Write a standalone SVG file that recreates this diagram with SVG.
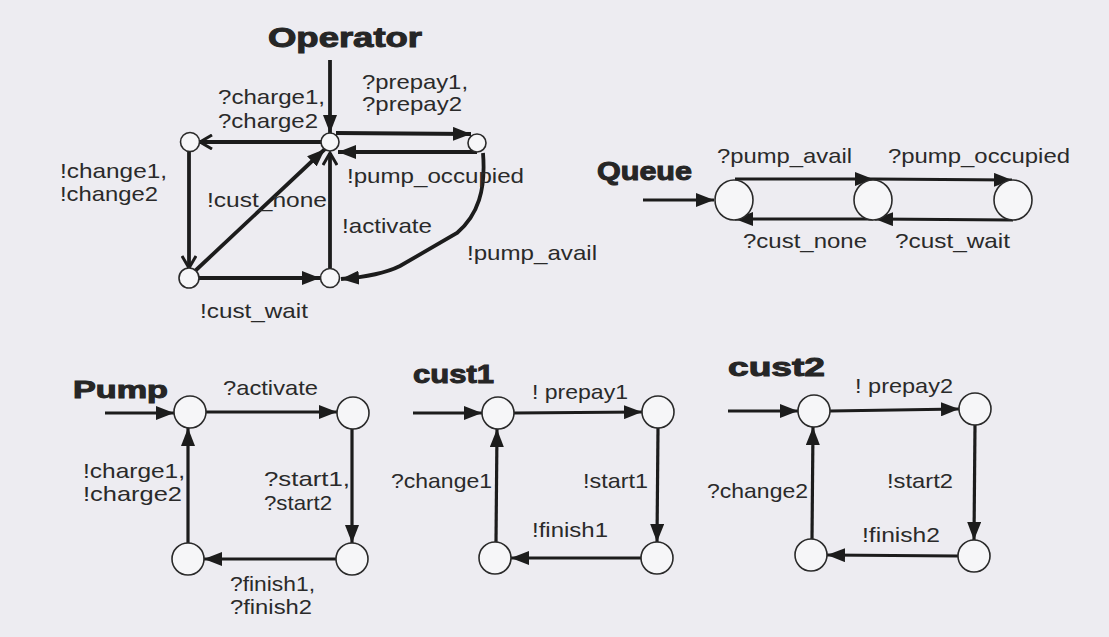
<svg xmlns="http://www.w3.org/2000/svg" width="1109" height="637" viewBox="0 0 1109 637">
<style>
.bg{fill:#edecf1}
.st{fill:#f6f6f8;stroke:#2a2a2a;stroke-width:1.6}
.e{fill:none;stroke:#1c1c1c;stroke-width:3.2;stroke-linecap:butt}
.eo{fill:none;stroke:#1c1c1c;stroke-width:3.8}
.t{font-family:"Liberation Sans",Arial,sans-serif;font-size:21px;fill:#2a2a2a}
.h{font-family:"Liberation Sans",Arial,sans-serif;font-weight:bold;fill:#262626;stroke:#262626;stroke-width:1}
</style>
<defs>
<marker id="af" markerWidth="20" markerHeight="14" refX="18" refY="7" orient="auto" markerUnits="userSpaceOnUse"><path d="M0,0 L18,7 L0,14 z" fill="#1c1c1c"/></marker>
<marker id="ao" markerWidth="18" markerHeight="16" refX="14" refY="8" orient="auto" markerUnits="userSpaceOnUse"><path d="M2,1 L14,8 L2,15" fill="none" stroke="#1c1c1c" stroke-width="3"/></marker>
</defs>
<rect class="bg" x="0" y="0" width="1109" height="637"/>

<!-- titles -->
<g id="titles">
<text class="h" x="268" y="47" font-size="27" textLength="154" lengthAdjust="spacingAndGlyphs">Operator</text>
<text class="h" x="597" y="180" font-size="25" textLength="95" lengthAdjust="spacingAndGlyphs">Queue</text>
<text class="h" x="73" y="398" font-size="24" textLength="95" lengthAdjust="spacingAndGlyphs">Pump</text>
<text class="h" x="413" y="383" font-size="26" textLength="81" lengthAdjust="spacingAndGlyphs">cust1</text>
<text class="h" x="728" y="376" font-size="26" textLength="97" lengthAdjust="spacingAndGlyphs">cust2</text>
</g>

<!-- connectors -->
<g id="connectors">
<!-- Operator -->
<path class="eo" d="M330,60 L330,133" marker-end="url(#af)"/>
<path class="eo" d="M321,142 L200,142" marker-end="url(#ao)"/>
<path class="eo" d="M189,152 L189,268" marker-end="url(#ao)"/>
<path class="eo" d="M199,278 L320,278" marker-end="url(#af)"/>
<path class="eo" d="M330,268 L330,153" marker-end="url(#ao)"/>
<path class="eo" d="M195,271 L325,149" marker-end="url(#af)"/>
<path class="eo" d="M336,133 L471,134" marker-end="url(#af)"/>
<path class="eo" d="M477,152 L338,152" marker-end="url(#af)"/>
<path class="eo" d="M483,153 C486,190 478,215 457,233 L400,266 Q380,276 341,279" marker-end="url(#af)"/>
<!-- Queue -->
<path class="e" d="M643,200 L714,200" marker-end="url(#af)"/>
<path class="e" d="M735,179 L873,179" marker-end="url(#af)"/>
<path class="e" d="M873,179 L1012,180" marker-end="url(#af)"/>
<path class="e" d="M873,219 L735,219" marker-end="url(#af)"/>
<path class="e" d="M1013,220 L875,219" marker-end="url(#af)"/>
<!-- Pump -->
<path class="e" d="M105,413 L174,413" marker-end="url(#af)"/>
<path class="e" d="M206,412 L337,412" marker-end="url(#af)"/>
<path class="e" d="M352,429 L352,543" marker-end="url(#af)"/>
<path class="e" d="M336,559 L204,559" marker-end="url(#af)"/>
<path class="e" d="M188,543 L188,428" marker-end="url(#af)"/>
<!-- cust1 -->
<path class="e" d="M413,413 L482,413" marker-end="url(#af)"/>
<path class="e" d="M514,413 L642,412" marker-end="url(#af)"/>
<path class="e" d="M658,428 L657,542" marker-end="url(#af)"/>
<path class="e" d="M641,558 L511,558" marker-end="url(#af)"/>
<path class="e" d="M496,542 L497,429" marker-end="url(#af)"/>
<!-- cust2 -->
<path class="e" d="M728,411 L798,411" marker-end="url(#af)"/>
<path class="e" d="M830,411 L959,409" marker-end="url(#af)"/>
<path class="e" d="M975,425 L974,540" marker-end="url(#af)"/>
<path class="e" d="M958,556 L827,555" marker-end="url(#af)"/>
<path class="e" d="M812,539 L813,427" marker-end="url(#af)"/>
</g>

<!-- Operator nodes -->
<g id="op-s0"><circle class="st" cx="330" cy="142" r="9"/></g>
<g id="op-s1"><circle class="st" cx="190" cy="142" r="9.5"/></g>
<g id="op-s2"><circle class="st" cx="189" cy="278" r="10"/></g>
<g id="op-s3"><circle class="st" cx="330" cy="278" r="9.5"/></g>
<g id="op-s4"><circle class="st" cx="477" cy="143" r="9"/></g>
<!-- Queue nodes -->
<g id="q-s0"><ellipse class="st" cx="734" cy="200" rx="19" ry="20"/></g>
<g id="q-s1"><ellipse class="st" cx="873" cy="200" rx="19" ry="20"/></g>
<g id="q-s2"><ellipse class="st" cx="1013" cy="200" rx="19" ry="20"/></g>
<!-- Pump nodes -->
<g id="p-s0"><circle class="st" cx="190" cy="412" r="16"/></g>
<g id="p-s1"><circle class="st" cx="353" cy="413" r="16"/></g>
<g id="p-s2"><circle class="st" cx="352" cy="559" r="16"/></g>
<g id="p-s3"><circle class="st" cx="188" cy="559" r="16"/></g>
<!-- cust1 nodes -->
<g id="c1-s0"><circle class="st" cx="498" cy="413" r="16"/></g>
<g id="c1-s1"><circle class="st" cx="658" cy="412" r="16"/></g>
<g id="c1-s2"><circle class="st" cx="657" cy="558" r="16"/></g>
<g id="c1-s3"><circle class="st" cx="495" cy="558" r="16"/></g>
<!-- cust2 nodes -->
<g id="c2-s0"><circle class="st" cx="814" cy="411" r="16"/></g>
<g id="c2-s1"><circle class="st" cx="975" cy="409" r="16"/></g>
<g id="c2-s2"><circle class="st" cx="974" cy="556" r="16"/></g>
<g id="c2-s3"><circle class="st" cx="811" cy="555" r="16"/></g>

<!-- labels -->
<g id="labels">
<text class="t" x="218" y="104" textLength="107" lengthAdjust="spacingAndGlyphs">?charge1,</text>
<text class="t" x="218" y="128" textLength="100" lengthAdjust="spacingAndGlyphs">?charge2</text>
<text class="t" x="362" y="89" textLength="106" lengthAdjust="spacingAndGlyphs">?prepay1,</text>
<text class="t" x="362" y="111" textLength="100" lengthAdjust="spacingAndGlyphs">?prepay2</text>
<text class="t" x="60" y="178" textLength="107" lengthAdjust="spacingAndGlyphs">!change1,</text>
<text class="t" x="60" y="201" textLength="98" lengthAdjust="spacingAndGlyphs">!change2</text>
<text class="t" x="207" y="207" textLength="120" lengthAdjust="spacingAndGlyphs">!cust_none</text>
<text class="t" x="347" y="183" textLength="177" lengthAdjust="spacingAndGlyphs">!pump_occupied</text>
<text class="t" x="342" y="233" textLength="90" lengthAdjust="spacingAndGlyphs">!activate</text>
<text class="t" x="467" y="260" textLength="130" lengthAdjust="spacingAndGlyphs">!pump_avail</text>
<text class="t" x="200" y="318" textLength="108" lengthAdjust="spacingAndGlyphs">!cust_wait</text>

<text class="t" x="717" y="163" textLength="135" lengthAdjust="spacingAndGlyphs">?pump_avail</text>
<text class="t" x="888" y="163" textLength="182" lengthAdjust="spacingAndGlyphs">?pump_occupied</text>
<text class="t" x="743" y="248" textLength="124" lengthAdjust="spacingAndGlyphs">?cust_none</text>
<text class="t" x="895" y="248" textLength="115" lengthAdjust="spacingAndGlyphs">?cust_wait</text>

<text class="t" x="223" y="395" textLength="95" lengthAdjust="spacingAndGlyphs">?activate</text>
<text class="t" x="264" y="486" textLength="86" lengthAdjust="spacingAndGlyphs">?start1,</text>
<text class="t" x="264" y="510" textLength="68" lengthAdjust="spacingAndGlyphs">?start2</text>
<text class="t" x="83" y="478" textLength="102" lengthAdjust="spacingAndGlyphs">!charge1,</text>
<text class="t" x="83" y="501" textLength="99" lengthAdjust="spacingAndGlyphs">!charge2</text>
<text class="t" x="230" y="591" textLength="85" lengthAdjust="spacingAndGlyphs">?finish1,</text>
<text class="t" x="230" y="614" textLength="82" lengthAdjust="spacingAndGlyphs">?finish2</text>

<text class="t" x="532" y="399" textLength="96" lengthAdjust="spacingAndGlyphs">! prepay1</text>
<text class="t" x="583" y="488" textLength="65" lengthAdjust="spacingAndGlyphs">!start1</text>
<text class="t" x="532" y="537" textLength="76" lengthAdjust="spacingAndGlyphs">!finish1</text>
<text class="t" x="391" y="488" textLength="101" lengthAdjust="spacingAndGlyphs">?change1</text>

<text class="t" x="855" y="393" textLength="98" lengthAdjust="spacingAndGlyphs">! prepay2</text>
<text class="t" x="887" y="488" textLength="66" lengthAdjust="spacingAndGlyphs">!start2</text>
<text class="t" x="862" y="542" textLength="78" lengthAdjust="spacingAndGlyphs">!finish2</text>
<text class="t" x="707" y="498" textLength="101" lengthAdjust="spacingAndGlyphs">?change2</text>
</g>
</svg>
